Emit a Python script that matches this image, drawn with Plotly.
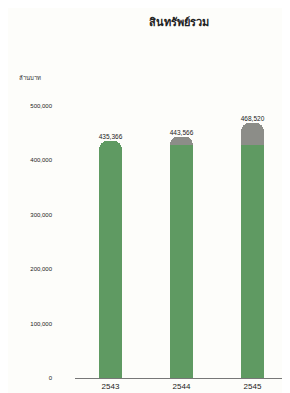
import plotly.graph_objects as go

years = ["2543", "2544", "2545"]
totals = [435366, 443566, 468520]
green_part = [435366, 428000, 428000]
grey_part = [t - g for t, g in zip(totals, green_part)]
total_labels = ["435,366", "443,566", "468,520"]
tick_vals = [0, 100000, 200000, 300000, 400000, 500000]
tick_text = ["0", "100,000", "200,000", "300,000", "400,000", "500,000"]

fig = go.Figure()
fig.add_trace(go.Bar(x=years, y=green_part, marker=dict(color="#5f9a62", line=dict(width=0)),
                     hoverinfo="skip"))
fig.add_trace(go.Bar(x=years, y=grey_part, marker=dict(color="#8c8d88", line=dict(width=0)),
                     hoverinfo="skip"))
fig.add_trace(go.Scatter(x=years, y=totals, mode="text", text=total_labels,
                         textposition="top center",
                         textfont=dict(size=6.5, color="#222222", family="Liberation Sans Narrow, Liberation Sans"),
                         hoverinfo="skip"))

fig.update_layout(
    width=290, height=393,
    margin=dict(l=67, r=10, t=76, b=21),
    paper_bgcolor="#fdfdfa", plot_bgcolor="#fdfdfa",
    barmode="stack", bargap=0.68, barcornerradius=8,
    showlegend=False,
    title=dict(text="<b>สินทรัพย์รวม</b>", x=0.59, xanchor="center", y=0.965, yanchor="middle",
               font=dict(size=11, color="#222222", family="Noto Sans")),
    xaxis=dict(showline=True, linecolor="#777777", linewidth=1, ticks="",
               tickfont=dict(size=8, color="#222222", family="Liberation Sans"),
               showgrid=False, fixedrange=True),
    yaxis=dict(range=[0, 540000], tickvals=tick_vals, ticktext=tick_text,
               showgrid=False, zeroline=False, showline=False, ticks="",
               tickfont=dict(size=6, color="#222222", family="Liberation Sans Narrow, Liberation Sans"),
               ticklabelstandoff=22),
    annotations=[dict(text="ล้านบาท", xref="paper", yref="paper", x=-0.21, y=1.0,
                      xanchor="center", yanchor="bottom", showarrow=False,
                      font=dict(size=6, color="#333333"))],
)
fig.write_html("out.html")
